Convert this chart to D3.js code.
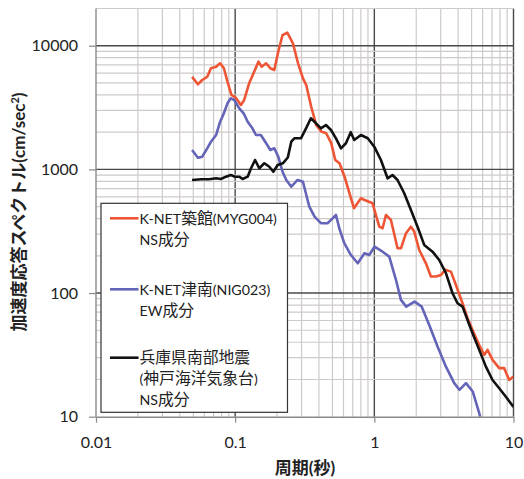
<!DOCTYPE html>
<html>
<head>
<meta charset="utf-8">
<script src="https://cdn.jsdelivr.net/npm/d3@7"></script>
<style>
  body { margin: 0; background: #fff; }
  svg text { font-family: Lato, "Noto Sans CJK JP", sans-serif; fill: #222; }
</style>
</head>
<body>
<svg width="524" height="479"></svg>
<script>
// acceleration response spectra, [period (s), value (cm/sec^2)]
var myg004 = [
[0.049,5600],[0.054,4880],[0.058,5280],[0.063,5610],[0.067,6570],[0.073,6760],[0.078,7210],[0.083,6570],
[0.088,5120],[0.094,4000],[0.101,3800],[0.110,3320],[0.116,3640],[0.126,4970],[0.137,6170],[0.147,7430],
[0.155,6760],[0.167,7210],[0.179,6570],[0.191,6360],[0.204,8940],[0.219,12200],[0.237,12740],[0.260,10460],
[0.283,7210],[0.307,5450],[0.324,4810],[0.352,3210],[0.382,2290],[0.416,2020],[0.451,1960],[0.490,1630],
[0.524,1190],[0.562,1120],[0.611,873],[0.663,641],[0.714,485],[0.801,584],[0.850,566],[0.971,532],
[1.085,344],[1.146,334],[1.212,428],[1.316,390],[1.468,230],[1.553,230],[1.687,304],[1.832,344],
[1.935,314],[2.102,223],[2.348,174],[2.55,136],[2.771,136],[3.01,140],[3.232,154],[3.551,149],
[3.857,116],[4.302,82.7],[4.673,62.6],[5.076,50.3],[5.67,38],[6.16,31.6],[6.507,34.7],[7.068,28.8],
[7.895,24.7],[8.574,24.7],[9.316,19.8],[10,21.1]
];

var nig023 = [
[0.049,1435],[0.054,1243],[0.058,1267],[0.063,1481],[0.067,1674],[0.073,1897],[0.078,2430],[0.083,2841],
[0.088,3422],[0.093,3757],[0.0985,3640],[0.107,3118],[0.115,2841],[0.123,2430],[0.133,2149],[0.141,1897],
[0.153,1897],[0.167,1626],[0.179,1435],[0.191,1481],[0.204,1267],[0.219,958],[0.233,821],[0.253,725],
[0.281,821],[0.307,795],[0.341,499],[0.372,415],[0.413,367],[0.461,367],[0.501,402],[0.530,428],
[0.560,334],[0.608,253],[0.679,203],[0.760,174],[0.849,210],[0.919,203],[1.003,237],[1.146,216],
[1.28,197],[1.43,128],[1.553,88],[1.695,77.6],[1.945,85.2],[2.19,77.6],[2.48,55.2],[2.846,36.9],
[3.269,25.4],[3.75,18.7],[4.087,16.5],[4.559,18.7],[5.093,16.0],[5.67,10.7],[5.86,9.3]
];

var kobe = [
[0.049,821],[0.057,832],[0.065,832],[0.073,847],[0.079,836],[0.086,873],[0.093,901],[0.0997,873],
[0.107,873],[0.113,836],[0.123,873],[0.130,1021],[0.139,1191],[0.149,1021],[0.162,1120],[0.176,1051],
[0.188,958],[0.202,1085],[0.220,1120],[0.239,1248],[0.253,1674],[0.266,1784],[0.297,1784],[0.323,2149],
[0.350,2589],[0.381,2359],[0.413,2149],[0.449,2286],[0.488,2082],[0.530,1784],[0.576,1481],[0.625,1626],
[0.677,1998],[0.717,1728],[0.801,1897],[0.897,1784],[0.9985,1526],[1.115,1191],[1.245,847],[1.351,901],
[1.468,821],[1.64,641],[1.832,470],[2.044,344],[2.283,245],[2.619,216],[2.926,185],[3.269,145],
[3.646,99.6],[3.961,82.7],[4.302,77.6],[4.673,60.6],[5.076,47.3],[5.67,34.7],[6.334,25.4],[7.068,19.8],
[7.895,17.0],[8.818,14.5],[10,12.0]
];

var xTicks = [0.01, 0.1, 1, 10];
var yTicks = [10, 100, 1000, 10000];

var legendLabels = [
  ["K-NET築館(MYG004)", "NS成分"],
  ["K-NET津南(NIG023)", "EW成分"],
  ["兵庫県南部地震", "(神戸海洋気象台)", "NS成分"]
];

var series = [
  {data: myg004, color: "#ee5535"},
  {data: nig023, color: "#6464b8"},
  {data: kobe,   color: "#111111"}
];

var svg = d3.select("svg");

var x = d3.scaleLog()
    .domain([0.01, 10])
    .range([96, 513.5]);

var y = d3.scaleLog()
    .domain([10, 20000])
    .range([416.7, 8.5]);

// minor + major grid values, one per 1..9 step of each decade
var xGrid = [], yGrid = [];
[0.01, 0.1, 1].forEach(function(d) {
  for (var k = 1; k < 10; k++) xGrid.push(d * k);
});
xGrid.push(10);
[10, 100, 1000].forEach(function(d) {
  for (var k = 1; k < 10; k++) yGrid.push(d * k);
});
yGrid.push(10000, 20000);

function isMajor(v) {
  var l = Math.log10(v);
  return Math.abs(l - Math.round(l)) < 1e-9;
}

var grid = svg.append("g");

grid.selectAll("line.v")
  .data(xGrid.filter(function(d) { return d > 0.01; }))
  .enter().append("line")
    .attr("x1", function(d) { return x(d); })
    .attr("x2", function(d) { return x(d); })
    .attr("y1", y(20000))
    .attr("y2", y(10))
    .attr("stroke", function(d) { return isMajor(d) ? "#4a4a4a" : "#cfcaca"; })
    .attr("stroke-width", function(d) { return isMajor(d) ? 1.4 : 1.2; });

grid.selectAll("line.h")
  .data(yGrid.filter(function(d) { return d > 10; }))
  .enter().append("line")
    .attr("x1", x(0.01))
    .attr("x2", x(10))
    .attr("y1", function(d) { return y(d); })
    .attr("y2", function(d) { return y(d); })
    .attr("stroke", function(d) { return isMajor(d) ? "#4a4a4a" : "#cfcaca"; })
    .attr("stroke-width", function(d) { return isMajor(d) ? 1.4 : 1.2; });

svg.append("clipPath")
    .attr("id", "plot")
  .append("rect")
    .attr("x", x(0.01))
    .attr("y", y(20000))
    .attr("width", x(10) - x(0.01))
    .attr("height", y(10) - y(20000));

var line = d3.line()
    .x(function(d) { return x(d[0]); })
    .y(function(d) { return y(d[1]); });

svg.append("g")
    .attr("clip-path", "url(#plot)")
  .selectAll("path")
  .data(series)
  .enter().append("path")
    .attr("d", function(d) { return line(d.data); })
    .attr("fill", "none")
    .attr("stroke", function(d) { return d.color; })
    .attr("stroke-width", 2.6)
    .attr("stroke-linejoin", "round");

// axes
var xAxis = svg.append("g")
    .attr("transform", "translate(0," + y(10) + ")")
    .call(d3.axisBottom(x)
      .tickValues(xTicks)
      .tickFormat(d3.format("~g"))
      .tickSize(6)
      .tickSizeOuter(0)
      .tickPadding(14));

var yAxis = svg.append("g")
    .attr("transform", "translate(" + x(0.01) + ",0)")
    .call(d3.axisLeft(y)
      .tickValues(yTicks)
      .tickFormat(d3.format("~g"))
      .tickSize(7)
      .tickSizeOuter(0)
      .tickPadding(11));

[xAxis, yAxis].forEach(function(a) {
  a.select(".domain").attr("stroke", "#8a8a8a").attr("stroke-width", 1.4);
  a.selectAll(".tick line").attr("stroke", "#8a8a8a").attr("stroke-width", 1.2);
  a.selectAll(".tick text")
      .attr("font-size", 16)
      .attr("font-family", "Lato, sans-serif")
      .attr("fill", "#222");
});
yAxis.select(".domain").attr("d", "M0," + y(20000) + "V" + y(10));

// legend
var legend = svg.append("g");

legend.append("rect")
    .attr("x", 101)
    .attr("y", 203.3)
    .attr("width", 186.5)
    .attr("height", 209)
    .attr("fill", "#fff")
    .attr("stroke", "#333")
    .attr("stroke-width", 1.2);

var rowY = [218.3, 289.3, 357.7];

var item = legend.selectAll("g.item")
  .data(series)
  .enter().append("g")
    .attr("transform", function(d, i) { return "translate(0," + rowY[i] + ")"; });

item.append("line")
    .attr("x1", 110)
    .attr("x2", 138.5)
    .attr("stroke", function(d) { return d.color; })
    .attr("stroke-width", 2.6);

// latin runs are set a bit smaller than the kanji runs
function runs(t) {
  return t.split(/([\u3000-\u9fff]+)/).filter(function(s) { return s.length; });
}

item.each(function(d, i) {
  d3.select(this).selectAll("text")
    .data(legendLabels[i])
    .enter().append("text")
      .attr("x", 139.5)
      .attr("y", function(t, j) { return j * 20.7; })
      .attr("dy", "0.36em")
    .selectAll("tspan")
    .data(runs)
    .enter().append("tspan")
      .attr("font-size", function(s) { return /[\u3000-\u9fff]/.test(s) ? 15.8 : 14.2; })
      .text(function(s) { return s; });
});

// axis titles
svg.append("text")
    .attr("x", 305)
    .attr("y", 468)
    .attr("dy", "0.36em")
    .attr("text-anchor", "middle")
    .attr("font-size", 17)
    .attr("font-weight", "bold")
    .text("周期(秒)");

var yTitle = svg.append("text")
    .attr("transform", "translate(19,212) rotate(-90)")
    .attr("dy", "0.36em")
    .attr("text-anchor", "middle")
    .attr("font-size", 17)
    .attr("font-weight", "bold");
yTitle.append("tspan").text("加速度応答スペクトル(cm/sec");
yTitle.append("tspan")
    .attr("font-size", 11)
    .attr("dy", "-0.6em")
    .text("2");
yTitle.append("tspan")
    .attr("dy", "0.4em")
    .text(")");
</script>
</body>
</html>
